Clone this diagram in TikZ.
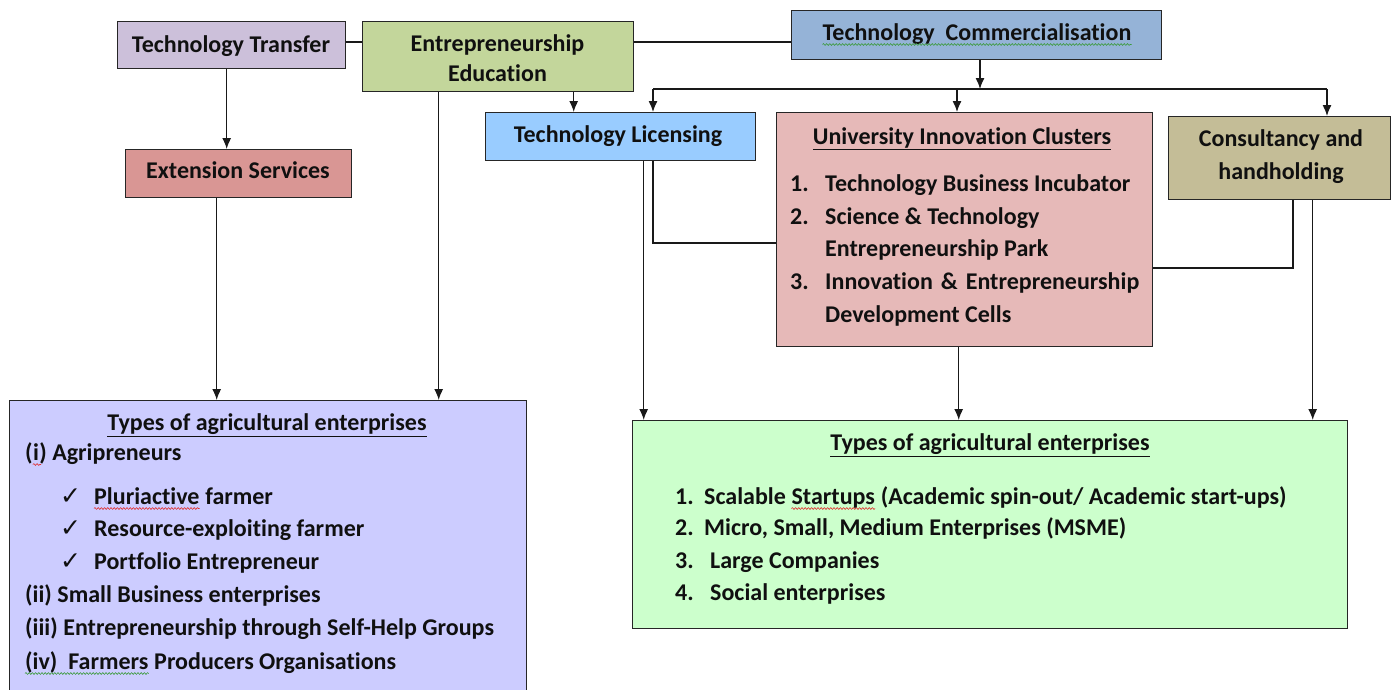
\documentclass[tikz,border=0pt]{standalone}
\usepackage{fontspec}
\setmainfont[Ligatures=NoCommon]{Carlito}
\newfontfamily\symfont{DejaVu Sans}
\usetikzlibrary{arrows.meta,decorations.pathmorphing}

\definecolor{ttfill}{HTML}{CCC0DA}
\definecolor{eefill}{HTML}{C3D69B}
\definecolor{tcfill}{HTML}{95B3D7}
\definecolor{esfill}{HTML}{D99694}
\definecolor{tlfill}{HTML}{99CCFF}
\definecolor{uicfill}{HTML}{E6B9B8}
\definecolor{chfill}{HTML}{C4BD97}
\definecolor{lbfill}{HTML}{CCCCFF}
\definecolor{gbfill}{HTML}{CCFFCC}
\definecolor{inkcol}{HTML}{101010}
\definecolor{squigred}{HTML}{E03030}
\definecolor{squiggreen}{HTML}{3A9A3A}

\newcommand{\bodyfont}{\bfseries\fontsize{24}{28}\selectfont}
\newcommand{\tickfont}{\bfseries\fontsize{25}{26}\symfont}

\begin{document}
\begin{tikzpicture}[x=1pt,y=-1pt,
  box/.style={draw=black!85, line width=1.4pt, inner sep=0pt, anchor=north west},
  txt/.style={inner sep=0pt, font=\bodyfont, text=inkcol},
  ctxt/.style={txt, anchor=base},
  ltxt/.style={txt, anchor=base west},
  tick/.style={inner sep=0pt, anchor=base west, font=\tickfont, text=inkcol},
  con/.style={draw=black!90, line width=1.3pt},
  arr/.style={con, -{Latex[length=11pt,width=9pt]}},
  wavy/.style={decorate, decoration={snake, amplitude=0.9pt, segment length=3.2pt}, line width=0.6pt}
]
\useasboundingbox (0,0) rectangle (1399,689);
\clip (0,0) rectangle (1399,689);

% ---------- boxes ----------
\node[box, fill=ttfill,  minimum width=228pt, minimum height=47pt]  (tt)  at (117,21)  {};
\node[box, fill=eefill,  minimum width=271pt, minimum height=70pt]  (ee)  at (362,21)  {};
\node[box, fill=tcfill,  minimum width=370pt, minimum height=49pt]  (tc)  at (791,10)  {};
\node[box, fill=esfill,  minimum width=226pt, minimum height=48pt]  (es)  at (125,149) {};
\node[box, fill=tlfill,  minimum width=270pt, minimum height=48pt]  (tl)  at (485,112) {};
\node[box, fill=uicfill, minimum width=376pt, minimum height=234pt] (uic) at (776,112) {};
\node[box, fill=chfill,  minimum width=222pt, minimum height=83pt]  (ch)  at (1168,116) {};
\node[box, fill=lbfill,  minimum width=517pt, minimum height=330pt] (lb)  at (9,400)   {};
\node[box, fill=gbfill,  minimum width=715pt, minimum height=208pt] (gb)  at (632,420) {};

% ---------- connectors ----------
\coordinate (link) at (0,42);
\draw[con] (tt.east |- link) -- (ee.west |- link);
\draw[con] (ee.east |- link) -- (tc.west |- link);

\draw[arr] ([xshift=-5pt]tt.south) -- ([xshift=-5pt]tt.south |- es.north);
\draw[arr] ([xshift=-22pt]es.south) -- ([xshift=-22pt]es.south |- lb.north);
\draw[arr] ([xshift=-59.5pt]ee.south) -- ([xshift=-59.5pt]ee.south |- lb.north);
\draw[arr] ([xshift=75.5pt]ee.south) -- ([xshift=75.5pt]ee.south |- tl.north);

% distribution bus under Technology Commercialisation
\coordinate (bus)  at (980,89);
\coordinate (busL) at (653,89);
\coordinate (busM) at (957,89);
\coordinate (busR) at (1327,89);
\draw[arr] (tc.south -| bus) -- (bus);
\draw[con] (busL) -- (busR);
\draw[arr] (busL) -- (busL |- tl.north);
\draw[arr] (busM) -- (busM |- uic.north);
\draw[arr] (busR) -- (busR |- ch.north);

% side links into the clusters box
\coordinate (tlk) at (653,243);
\draw[con] (tlk |- tl.south) -- (tlk) -- (tlk -| uic.west);
\coordinate (chk) at (1293,268);
\draw[con] (chk |- ch.south) -- (chk) -- (chk -| uic.east);

% feeds into the enterprise box
\draw[arr] ([xshift=23pt]tl.south) -- ([xshift=23pt]tl.south |- gb.north);
\draw[arr] ([xshift=-6pt]uic.south) -- ([xshift=-6pt]uic.south |- gb.north);
\draw[arr] ([xshift=33pt]ch.south) -- ([xshift=33pt]ch.south |- gb.north);

% ---------- labels ----------
\node[ctxt] (ttt) at (231,52) {Technology Transfer};
\node[ctxt] (eet1) at (497.5,51.5) {Entrepreneurship};
\node[ctxt] (eet2) at (497.5,81.5) {Education};
\node[ctxt] (tct) at (977,40.5) {Technology\ \ Commercialisation};
\draw[wavy, squiggreen] ([yshift=-4pt]tct.base west) -- ([yshift=-4pt]tct.base east);
\node[ctxt] (est) at (238,178.5) {Extension Services};
\node[ctxt] (tlt) at (618,142.5) {Technology Licensing};
\node[ctxt] (cht1) at (1281,146.5) {Consultancy and};
\node[ctxt] (cht2) at (1281,179.5) {handholding};

% clusters list
\node[ctxt] (uict) at (962,144.5) {\underline{University Innovation Clusters}};
\node[ltxt] (un1) at (790,191.5) {1.};
\node[ltxt] (ui1) at (825,191.5) {Technology Business Incubator};
\node[ltxt] (un2) at (790,224.5) {2.};
\node[ltxt] (ui2) at (825,224.5) {Science \& Technology};
\node[ltxt] (ui2b) at (825,256.5) {Entrepreneurship Park};
\node[ltxt] (un3) at (790,289.5) {3.};
\node[ltxt] (ui3) at (825,289.5) {Innovation\hspace{8pt}\&\hspace{8pt}Entrepreneurship};
\node[ltxt] (ui3b) at (825,322.5) {Development Cells};

% left enterprise list
\node[ctxt] (lbt) at (267,430.5) {\underline{Types of agricultural enterprises}};
\node[ltxt] (ag0) at (25,460.5) {(};
\node[ltxt] (ag1) at (ag0.base east) {i};
\node[ltxt] (ag2) at (ag1.base east) {) Agripreneurs};
\draw[wavy, squigred] ([yshift=-4pt]ag1.base west) -- ([yshift=-4pt,xshift=2pt]ag1.base east);

\node[tick] (ck1) at (60,504.5) {✓};
\node[ltxt] (pl1) at (94,504.5) {Pluriactive};
\node[ltxt] (pl2) at (pl1.base east) {\ farmer};
\draw[wavy, squigred] ([yshift=-4pt]pl1.base west) -- ([yshift=-4pt]pl1.base east);
\node[tick] (ck2) at (60,536.5) {✓};
\node[ltxt] (rf) at (94,536.5) {Resource-exploiting farmer};
\node[tick] (ck3) at (60,569.5) {✓};
\node[ltxt] (pe) at (94,569.5) {Portfolio Entrepreneur};
\node[ltxt] (sb) at (25,602.5) {(ii) Small Business enterprises};
\node[ltxt] (sh) at (25,635.5) {(iii) Entrepreneurship through Self-Help Groups};
\node[ltxt] (fp1) at (25,669.5) {(iv)\ \ Farmers};
\node[ltxt] (fp2) at (fp1.base east) {\ Producers Organisations};
\draw[wavy, squiggreen] ([yshift=-4pt]fp1.base west) -- ([yshift=-4pt]fp1.base east);

% right enterprise list
\node[ctxt] (gbt) at (990,450.5) {\underline{Types of agricultural enterprises}};
\node[ltxt] (gn1) at (675,504.5) {1.};
\node[ltxt] (gs1) at (704,504.5) {Scalable};
\node[ltxt] (gs2) at ([xshift=5.3pt]gs1.base east) {Startups};
\node[ltxt] (gs3) at (gs2.base east) {\ (Academic spin-out/ Academic start-ups)};
\draw[wavy, squigred] ([yshift=-4pt]gs2.base west) -- ([yshift=-4pt]gs2.base east);
\node[ltxt] (gn2) at (675,535.5) {2.};
\node[ltxt] (gi2) at (704,535.5) {Micro, Small, Medium Enterprises (MSME)};
\node[ltxt] (gn3) at (675,568.5) {3.};
\node[ltxt] (gi3) at (710,568.5) {Large Companies};
\node[ltxt] (gn4) at (675,600.5) {4.};
\node[ltxt] (gi4) at (710,600.5) {Social enterprises};
\end{tikzpicture}
\end{document}
